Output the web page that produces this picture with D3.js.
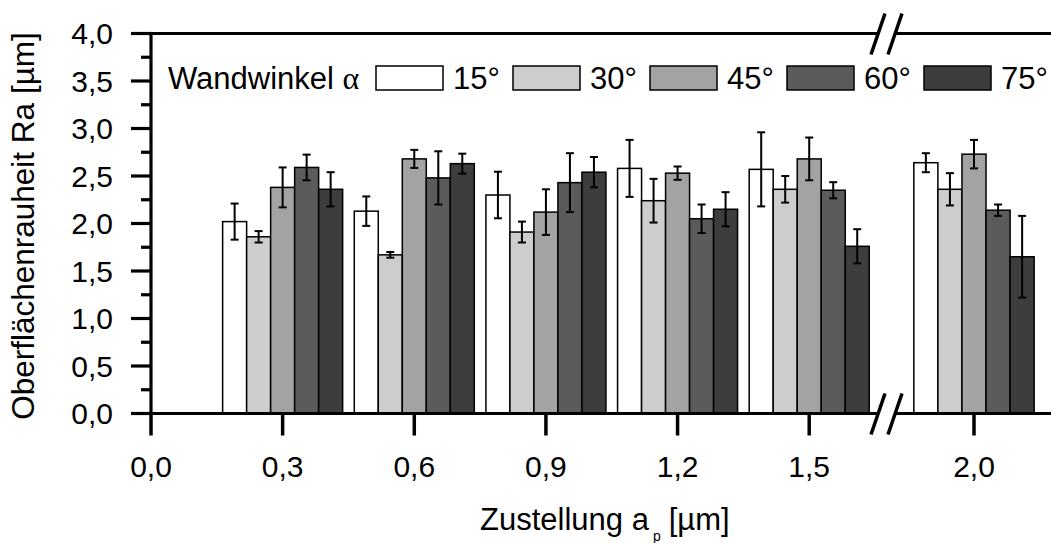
<!DOCTYPE html>
<html><head><meta charset="utf-8">
<script src="https://cdn.jsdelivr.net/npm/d3@7"></script>
<style>body{margin:0;background:#fff}svg{display:block}text{font-family:"Liberation Sans",Arial,sans-serif;fill:#000}</style>
</head><body><svg id="c" width="1051" height="543"></svg>
<script>
const categories = ["0,3","0,6","0,9","1,2","1,5","2,0"];
const catValues = [0.3,0.6,0.9,1.2,1.5,2.0];
const seriesNames = ["15°","30°","45°","60°","75°"];
const seriesColors = ["#ffffff","#cdcdcd","#a3a3a3","#5b5b5b","#3d3d3d"];
const s15 = [2.02, 2.13, 2.30, 2.58, 2.57, 2.64];
const s30 = [1.86, 1.67, 1.91, 2.24, 2.36, 2.36];
const s45 = [2.38, 2.68, 2.12, 2.53, 2.68, 2.73];
const s60 = [2.59, 2.48, 2.43, 2.05, 2.35, 2.14];
const s75 = [2.36, 2.63, 2.54, 2.15, 1.76, 1.65];
const e15 = [0.19, 0.155, 0.245, 0.30, 0.39, 0.10];
const e30 = [0.06, 0.03, 0.11, 0.23, 0.14, 0.17];
const e45 = [0.21, 0.095, 0.24, 0.07, 0.225, 0.15];
const e60 = [0.135, 0.28, 0.31, 0.15, 0.085, 0.06];
const e75 = [0.18, 0.105, 0.16, 0.18, 0.18, 0.43];
const xTickValues = [0.0,0.3,0.6,0.9,1.2,1.5,2.0];
const xTickLabels = ["0,0","0,3","0,6","0,9","1,2","1,5","2,0"];
const yTickValues = [0,0.5,1,1.5,2,2.5,3,3.5,4];
const yTickLabels = ["0,0","0,5","1,0","1,5","2,0","2,5","3,0","3,5","4,0"];

const series = [s15,s30,s45,s60,s75];
const errs = [e15,e30,e45,e60,e75];

const svg = d3.select("#c");
const X0=151, XB=886, XR=1051, Y0=413.5, YT=33.5;
const x = d3.scaleLinear().domain([0,1.675,1.8,2.175]).range([X0,XB,XB,XR]);
const y = d3.scaleLinear().domain([0,4]).range([Y0,YT]);
const groupW = 0.2735, nS = 5;

// bars
const g = svg.append("g");
series.forEach((vals,si)=>{
  vals.forEach((v,ci)=>{
    const c = catValues[ci];
    const a = x(c - groupW/2 + si*groupW/nS), b = x(c - groupW/2 + (si+1)*groupW/nS);
    g.append("rect").attr("x",a).attr("y",y(v)).attr("width",b-a).attr("height",y(0)-y(v))
      .attr("fill",seriesColors[si]).attr("stroke","#000").attr("stroke-width",1.5);
  });
});
// error bars
series.forEach((vals,si)=>{
  vals.forEach((v,ci)=>{
    const c = catValues[ci];
    const cx = x(c - groupW/2 + (si+0.5)*groupW/nS);
    const e = errs[si][ci];
    const t=y(v+e), bt=y(v-e);
    g.append("line").attr("x1",cx).attr("x2",cx).attr("y1",t).attr("y2",bt).attr("stroke","#000").attr("stroke-width",2);
    [t,bt].forEach(yy=>g.append("line").attr("x1",cx-4).attr("x2",cx+4).attr("y1",yy).attr("y2",yy).attr("stroke","#000").attr("stroke-width",2));
  });
});

// axes lines
const ax = svg.append("g").attr("stroke","#000").attr("stroke-width",3.2).attr("fill","none");
ax.append("line").attr("x1",X0).attr("x2",X0).attr("y1",YT-1.5).attr("y2",Y0+1.5);
ax.append("line").attr("x1",X0-20).attr("x2",XB-9).attr("y1",Y0).attr("y2",Y0);
ax.append("line").attr("x1",XB+10).attr("x2",XR).attr("y1",Y0).attr("y2",Y0);
ax.append("line").attr("x1",X0-20).attr("x2",XB-9).attr("y1",YT).attr("y2",YT);
ax.append("line").attr("x1",XB+10).attr("x2",XR).attr("y1",YT).attr("y2",YT);
// break marks
[Y0,YT].forEach(yy=>{
  [-8,9].forEach(dx=>{
    ax.append("line").attr("x1",XB+dx+7).attr("y1",yy-20).attr("x2",XB+dx-7).attr("y2",yy+21).attr("stroke-width",3.5);
  });
});
// y ticks
yTickValues.forEach(v=>ax.append("line").attr("x1",X0-20).attr("x2",X0).attr("y1",y(v)).attr("y2",y(v)));
d3.range(0.25,4,0.5).forEach(v=>ax.append("line").attr("x1",X0-10).attr("x2",X0).attr("y1",y(v)).attr("y2",y(v)));
// x ticks
xTickValues.forEach(v=>ax.append("line").attr("x1",x(v)).attr("x2",x(v)).attr("y1",Y0).attr("y2",Y0+22).attr("stroke-width",3.5));

// tick labels
const fs = 30;
yTickValues.forEach((v,i)=>svg.append("text").attr("x",113).attr("y",y(v)).attr("dy","0.36em").attr("text-anchor","end").attr("font-size",fs).text(yTickLabels[i]));
xTickValues.forEach((v,i)=>svg.append("text").attr("x",x(v)).attr("y",477).attr("text-anchor","middle").attr("font-size",fs).text(xTickLabels[i]));

// axis titles
svg.append("text").attr("transform","translate(34,226) rotate(-90)").attr("text-anchor","middle").attr("font-size",31.5).text("Oberflächenrauheit Ra [µm]");
const xt = svg.append("text").attr("x",480).attr("y",530).attr("font-size",31);
xt.append("tspan").text("Zustellung a");
xt.append("tspan").attr("font-size",14).attr("dx",4).attr("dy",11).text("p");
xt.append("tspan").attr("dy",-11).attr("dx",8).text("[µm]");

// legend
const lt = svg.append("text").attr("x",168).attr("y",89).attr("font-size",31);
lt.append("tspan").text("Wandwinkel ");
lt.append("tspan").attr("font-family","'Liberation Serif',serif").attr("font-size",32).text("α");
seriesNames.forEach((n,i)=>{
  const bx = 376 + i*137;
  svg.append("rect").attr("x",bx).attr("y",66).attr("width",67).attr("height",24).attr("fill",seriesColors[i]).attr("stroke","#000").attr("stroke-width",1.5);
  svg.append("text").attr("x",bx+77).attr("y",89).attr("font-size",31).text(n);
});
</script></body></html>
